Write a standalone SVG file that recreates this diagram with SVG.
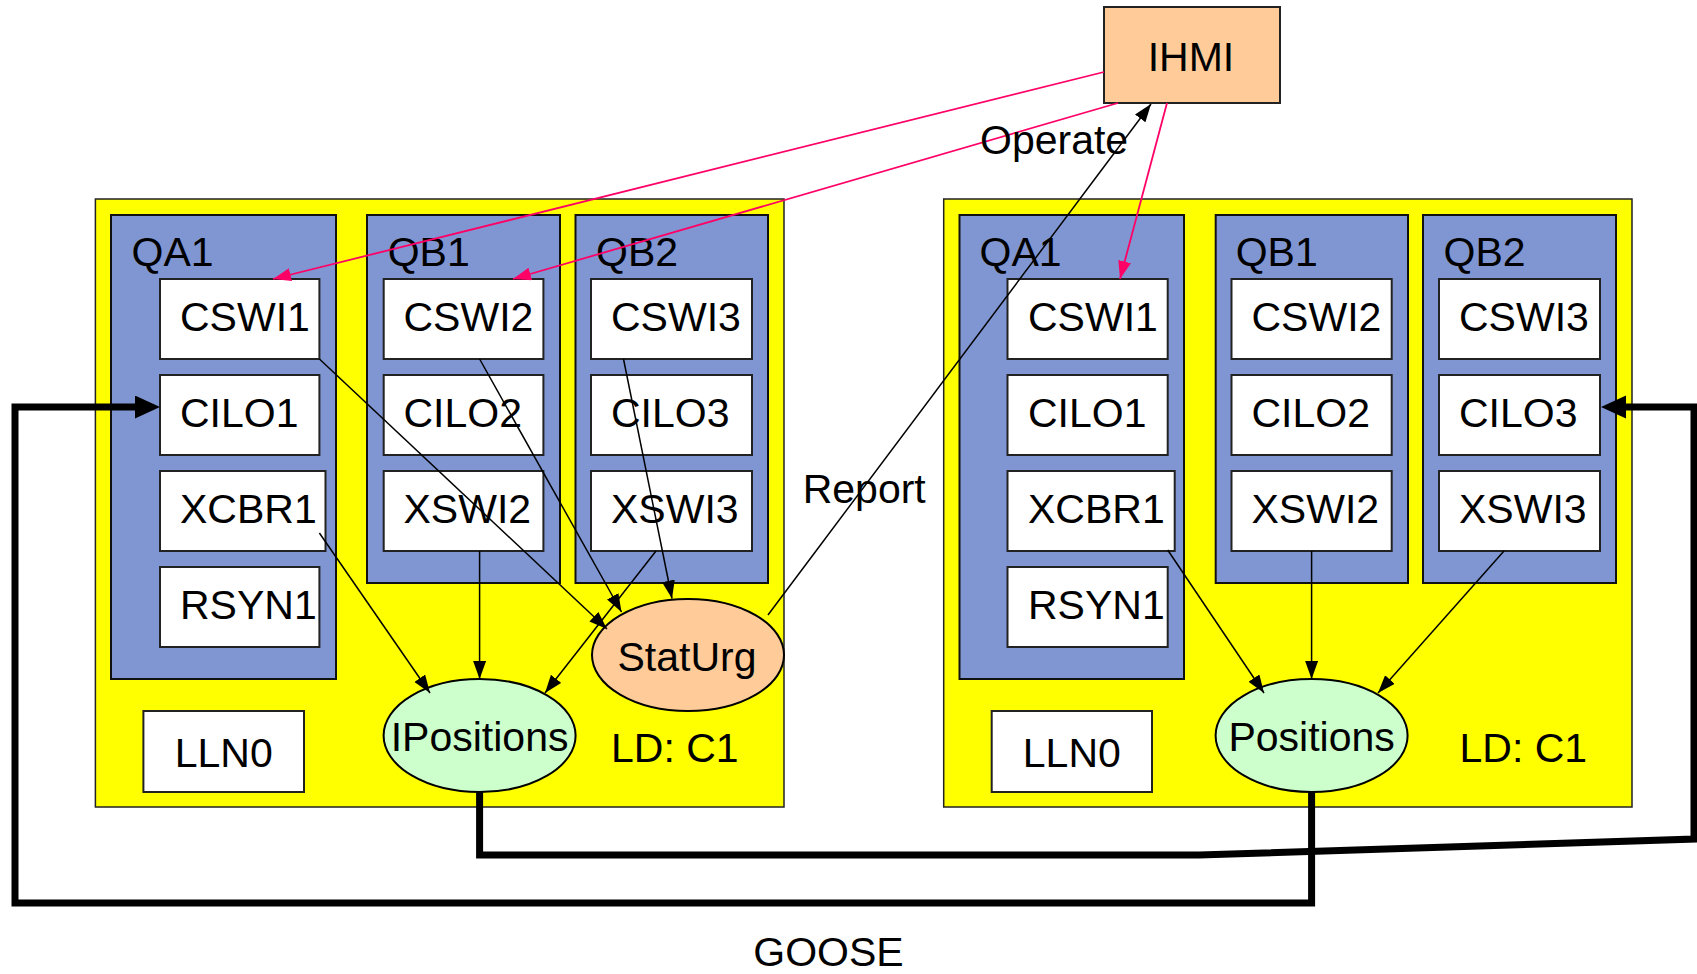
<svg xmlns="http://www.w3.org/2000/svg" width="1697" height="974" viewBox="0 0 1697 974">
<style>
text{font-family:"Liberation Sans",Arial,Helvetica,sans-serif;font-size:41px;fill:#000}
.ld{fill:#ffff00;stroke:#222;stroke-width:1.5}
.bay{fill:#7f96d2;stroke:#111;stroke-width:2}
.ln{fill:#fff;stroke:#222;stroke-width:2}
.ds{fill:#ccffcc;stroke:#000;stroke-width:2}
.urg{fill:#ffcc99;stroke:#000;stroke-width:2}
.hmi{fill:#ffcc99;stroke:#222;stroke-width:2}
.c{text-anchor:middle}
.thin{fill:none;stroke:#000;stroke-width:1.5;marker-end:url(#ab)}
.red{fill:none;stroke:#ff0066;stroke-width:1.8;marker-end:url(#ar)}
.goose{fill:none;stroke:#000;stroke-width:7;stroke-linejoin:miter;marker-end:url(#at)}
</style>
<defs>
<marker id="ab" markerUnits="userSpaceOnUse" markerWidth="20" markerHeight="14" refX="18" refY="6.5" orient="auto"><path d="M0,0 L18,6.5 L0,13 z" fill="#000"/></marker>
<marker id="ar" markerUnits="userSpaceOnUse" markerWidth="20" markerHeight="14" refX="18" refY="6.5" orient="auto"><path d="M0,0 L18,6.5 L0,13 z" fill="#ff0066"/></marker>
<marker id="at" markerUnits="userSpaceOnUse" markerWidth="28" markerHeight="24" refX="0" refY="11.5" orient="auto"><path d="M0,0 L25,11.5 L0,23 z" fill="#000"/></marker>
</defs>

<g id="ld-left">
<rect class="ld" x="95.4" y="199" width="688.6" height="608"/>
<text x="611" y="762">LD: C1</text>
</g>
<g id="ld-right">
<rect class="ld" x="943.7" y="199" width="688.3" height="608"/>
<text x="1459.5" y="762">LD: C1</text>
</g>

<g id="bay-qa1-left"><rect class="bay" x="111" y="215" width="225" height="464"/><text x="131.6" y="266">QA1</text></g>
<g id="bay-qb1-left"><rect class="bay" x="367" y="215" width="193" height="368"/><text x="387.7" y="266">QB1</text></g>
<g id="bay-qb2-left"><rect class="bay" x="575.5" y="215" width="192.5" height="368"/><text x="596" y="266">QB2</text></g>
<g id="bay-qa1-right"><rect class="bay" x="959.5" y="215" width="224.5" height="464"/><text x="979.5" y="266">QA1</text></g>
<g id="bay-qb1-right"><rect class="bay" x="1215.7" y="215" width="192.3" height="368"/><text x="1235.7" y="266">QB1</text></g>
<g id="bay-qb2-right"><rect class="bay" x="1423" y="215" width="193" height="368"/><text x="1443.5" y="266">QB2</text></g>

<g id="l-cswi1"><rect class="ln" x="160" y="279" width="159.4" height="80"/><text x="180" y="331">CSWI1</text></g>
<g id="l-cilo1"><rect class="ln" x="160" y="375" width="159.4" height="80"/><text x="180" y="427">CILO1</text></g>
<g id="l-xcbr1"><rect class="ln" x="160" y="471" width="165.5" height="80"/><text x="180" y="523">XCBR1</text></g>
<g id="l-rsyn1"><rect class="ln" x="160" y="567" width="159.4" height="80"/><text x="180" y="619">RSYN1</text></g>
<g id="l-cswi2"><rect class="ln" x="383.7" y="279" width="159.7" height="80"/><text x="403.5" y="331">CSWI2</text></g>
<g id="l-cilo2"><rect class="ln" x="383.7" y="375" width="159.7" height="80"/><text x="403.5" y="427">CILO2</text></g>
<g id="l-xswi2"><rect class="ln" x="383.7" y="471" width="159.7" height="80"/><text x="403.5" y="523">XSWI2</text></g>
<g id="l-cswi3"><rect class="ln" x="591" y="279" width="161" height="80"/><text x="611" y="331">CSWI3</text></g>
<g id="l-cilo3"><rect class="ln" x="591" y="375" width="161" height="80"/><text x="611" y="427">CILO3</text></g>
<g id="l-xswi3"><rect class="ln" x="591" y="471" width="161" height="80"/><text x="611" y="523">XSWI3</text></g>
<g id="l-lln0"><rect class="ln" x="143.4" y="711" width="160.6" height="81"/><text class="c" x="223.7" y="767">LLN0</text></g>
<g id="l-ipositions"><ellipse class="ds" cx="479.6" cy="735.5" rx="96" ry="56.5"/><text class="c" x="479.6" y="751">IPositions</text></g>
<g id="l-staturg"><ellipse class="urg" cx="688" cy="655" rx="96" ry="56"/><text class="c" x="687" y="671">StatUrg</text></g>

<g id="r-cswi1"><rect class="ln" x="1007.5" y="279" width="160.2" height="80"/><text x="1028" y="331">CSWI1</text></g>
<g id="r-cilo1"><rect class="ln" x="1007.5" y="375" width="160.2" height="80"/><text x="1028" y="427">CILO1</text></g>
<g id="r-xcbr1"><rect class="ln" x="1007.5" y="471" width="167.2" height="80"/><text x="1028" y="523">XCBR1</text></g>
<g id="r-rsyn1"><rect class="ln" x="1007.5" y="567" width="160.2" height="80"/><text x="1028" y="619">RSYN1</text></g>
<g id="r-cswi2"><rect class="ln" x="1231.5" y="279" width="160.2" height="80"/><text x="1251.5" y="331">CSWI2</text></g>
<g id="r-cilo2"><rect class="ln" x="1231.5" y="375" width="160.2" height="80"/><text x="1251.5" y="427">CILO2</text></g>
<g id="r-xswi2"><rect class="ln" x="1231.5" y="471" width="160.2" height="80"/><text x="1251.5" y="523">XSWI2</text></g>
<g id="r-cswi3"><rect class="ln" x="1439" y="279" width="161" height="80"/><text x="1459" y="331">CSWI3</text></g>
<g id="r-cilo3"><rect class="ln" x="1439" y="375" width="161" height="80"/><text x="1459" y="427">CILO3</text></g>
<g id="r-xswi3"><rect class="ln" x="1439" y="471" width="161" height="80"/><text x="1459" y="523">XSWI3</text></g>
<g id="r-lln0"><rect class="ln" x="991.7" y="711" width="160.3" height="81"/><text class="c" x="1071.8" y="767">LLN0</text></g>
<g id="r-positions"><ellipse class="ds" cx="1311.6" cy="735.5" rx="96" ry="56.5"/><text class="c" x="1311.6" y="751">Positions</text></g>

<g id="ihmi"><rect class="hmi" x="1104" y="7" width="176" height="96"/><text class="c" x="1191" y="71">IHMI</text></g>

<g id="connectors">
<line class="thin" x1="319.4" y1="359" x2="607" y2="629"/>
<line class="thin" x1="479.6" y1="359" x2="621.5" y2="612"/>
<line class="thin" x1="623.5" y1="359" x2="672" y2="598.5"/>
<line class="thin" x1="319.4" y1="533" x2="430" y2="693"/>
<line class="thin" x1="479.6" y1="551" x2="479.6" y2="679"/>
<line class="thin" x1="656" y1="551" x2="545" y2="693"/>
<line class="thin" x1="768" y1="615" x2="1151" y2="104"/>
<line class="thin" x1="1167.7" y1="550" x2="1264" y2="693"/>
<line class="thin" x1="1311.6" y1="551" x2="1311.6" y2="679"/>
<line class="thin" x1="1504" y1="551" x2="1378" y2="693"/>
<line class="red" x1="1104" y1="72" x2="273" y2="279"/>
<line class="red" x1="1118" y1="103" x2="513" y2="279"/>
<line class="red" x1="1167" y1="103" x2="1120" y2="279"/>
<polyline class="goose" points="1311.6,792 1311.6,903 15,903 15,407 135,407"/>
<polyline class="goose" points="479.6,792 479.6,855 1199,855 1694,839 1694,407 1626,407"/>
<text x="980" y="154">Operate</text>
<text x="802.7" y="503">Report</text>
<text x="753.3" y="966">GOOSE</text>
</g>
</svg>
